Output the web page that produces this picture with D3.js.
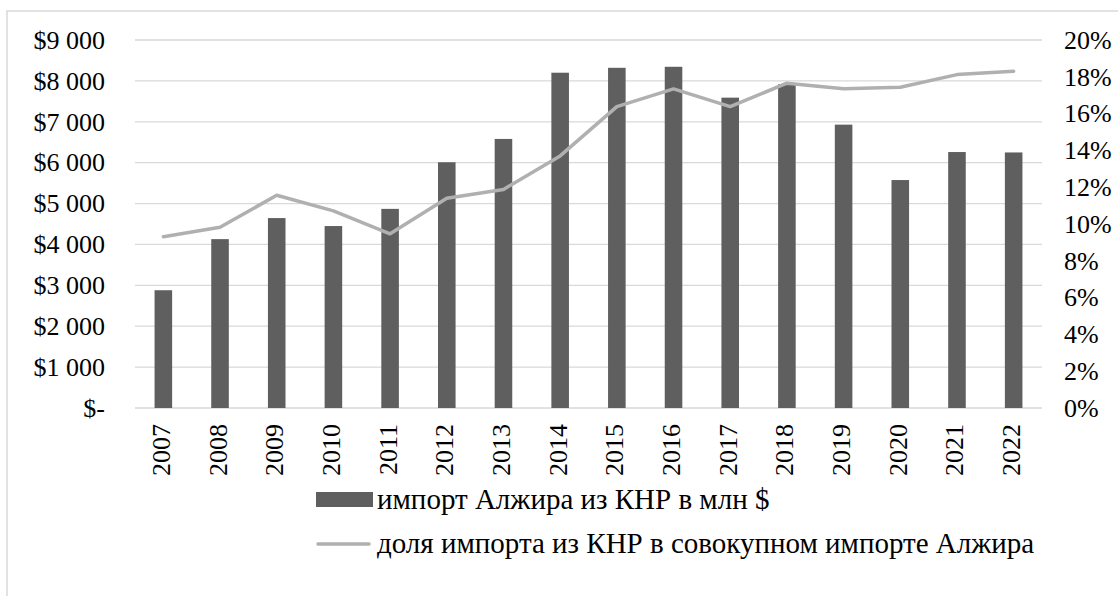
<!DOCTYPE html>
<html>
<head>
<meta charset="utf-8">
<script src="https://cdn.jsdelivr.net/npm/d3@7"></script>
</head>
<body style="margin:0">
<svg id="chart" width="1118" height="596" font-family="Liberation Serif"></svg>
<script>
// ---- data ----
const years = ["2007","2008","2009","2010","2011","2012","2013","2014","2015","2016","2017","2018","2019","2020","2021","2022"];
const importValues = [2880, 4130, 4645, 4450, 4870, 6010, 6580, 8200, 8320, 8345, 7590, 7920, 6930, 5575, 6260, 6250];
const shareValues = [9.31, 9.82, 11.56, 10.71, 9.47, 11.40, 11.88, 13.70, 16.38, 17.34, 16.38, 17.65, 17.35, 17.43, 18.12, 18.30];
const leftTicks = [0, 1000, 2000, 3000, 4000, 5000, 6000, 7000, 8000, 9000];
const rightTicks = [0, 2, 4, 6, 8, 10, 12, 14, 16, 18, 20];
const legendLabels = ["импорт Алжира из КНР в млн $", "доля импорта из КНР в совокупном импорте Алжира"];

// ---- layout ----
const svg = d3.select("#chart");
const plot = { left: 135, right: 1042, top: 40, bottom: 408 };
const barColor = "#5f5f5f";
const lineColor = "#b0b0b0";
const gridColor = "#d9d9d9";
const tickFont = 26;

// outer border (clipped by the viewport at right & bottom)
svg.append("rect")
  .attr("x", 7).attr("y", 11).attr("width", 1200).attr("height", 700)
  .attr("fill", "none").attr("stroke", gridColor).attr("stroke-width", 1.5);

const x = d3.scaleBand().domain(years).range([plot.left, plot.right]).padding(0);
const yL = d3.scaleLinear().domain([0, 9000]).range([plot.bottom, plot.top]);
const yR = d3.scaleLinear().domain([0, 20]).range([plot.bottom, plot.top]);

// gridlines
svg.append("g").selectAll("line").data(leftTicks).join("line")
  .attr("x1", plot.left).attr("x2", plot.right)
  .attr("y1", d => yL(d)).attr("y2", d => yL(d))
  .attr("stroke", gridColor).attr("stroke-width", 1.3);

function styleTicks(g) {
  g.attr("font-family", "Liberation Serif").attr("font-size", tickFont);
  g.select(".domain").remove();
  g.selectAll("text").attr("font-family", "Liberation Serif").attr("font-size", tickFont).attr("fill", "#000");
}

// left axis
const fmtL = v => v === 0 ? "$-" : "$" + d3.format(",")(v).replace(/,/g, "\u00a0");
const axL = d3.axisLeft(yL).tickValues(leftTicks).tickFormat(fmtL).tickSize(0).tickPadding(0);
const gL = svg.append("g").attr("transform", "translate(105,0)").call(axL);
styleTicks(gL);

// right axis
const axR = d3.axisRight(yR).tickValues(rightTicks).tickFormat(d => d + "%").tickSize(0).tickPadding(0);
const gR = svg.append("g").attr("transform", "translate(1064,0)").call(axR);
styleTicks(gR);

// bars
const barW = x.bandwidth() * 0.31;
svg.append("g").selectAll("rect").data(importValues).join("rect")
  .attr("x", (d, i) => x(years[i]) + x.bandwidth() / 2 - barW / 2)
  .attr("width", barW)
  .attr("y", d => yL(d))
  .attr("height", d => yL(0) - yL(d))
  .attr("fill", barColor);

// line
const line = d3.line()
  .x((d, i) => x(years[i]) + x.bandwidth() / 2)
  .y(d => yR(d));
svg.append("path").datum(shareValues)
  .attr("d", line).attr("fill", "none")
  .attr("stroke", lineColor).attr("stroke-width", 3.5)
  .attr("stroke-linejoin", "round").attr("stroke-linecap", "round");

// x axis labels (rotated)
const axX = d3.axisBottom(x).tickSize(0).tickPadding(0);
const gX = svg.append("g").attr("transform", "translate(0,424)").call(axX);
styleTicks(gX);
gX.selectAll("text")
  .attr("transform", "rotate(-90)")
  .attr("text-anchor", "end")
  .attr("x", 0).attr("y", 0).attr("dy", "0.25em");

// legend
svg.append("rect").attr("x", 316).attr("y", 492).attr("width", 57).attr("height", 15).attr("fill", barColor);
svg.append("line").attr("x1", 318).attr("x2", 369).attr("y1", 544).attr("y2", 544)
  .attr("stroke", lineColor).attr("stroke-width", 3.5).attr("stroke-linecap", "round");
svg.selectAll("text.legend").data(legendLabels).join("text")
  .attr("class", "legend")
  .attr("x", 377).attr("y", (d, i) => 509 + i * 44)
  .attr("font-size", 29)
  .attr("font-family", "Liberation Serif")
  .text(d => d);
</script>
</body>
</html>
